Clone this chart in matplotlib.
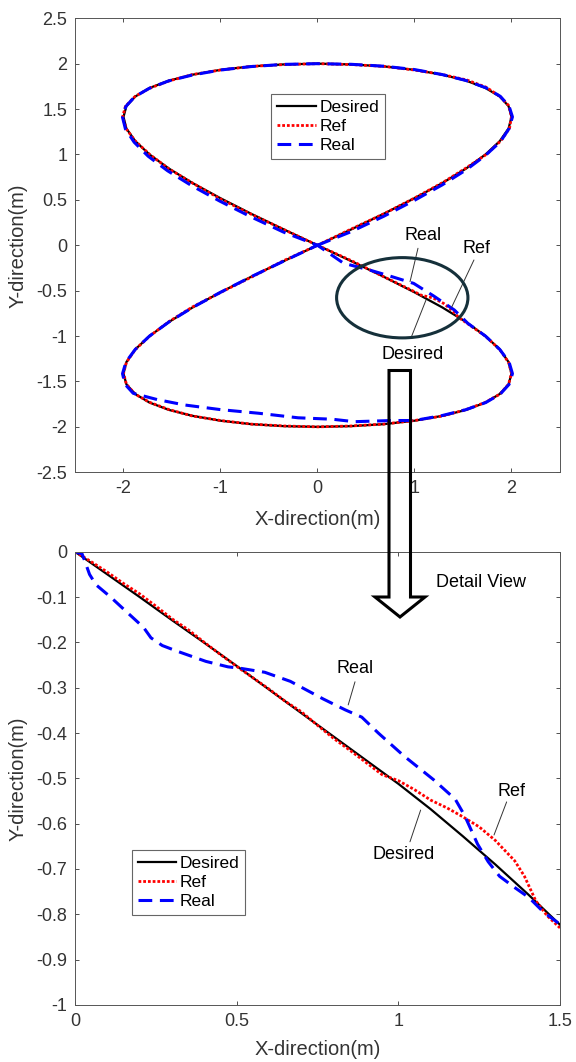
import matplotlib
matplotlib.use('Agg')
import matplotlib.pyplot as plt
from matplotlib.patches import Ellipse, Polygon

plt.rcParams['font.family'] = ['Liberation Sans', 'DejaVu Sans']
plt.rcParams['axes.unicode_minus'] = False

# ---- top plot: full figure-eight trajectory ----
desired_x = [0, 0.347, 0.684, 1.0, 1.286, 1.532, 1.732, 1.879, 1.97, 2.0, 1.97, 1.879, 1.732, 1.532, 1.286, 1.0, 0.684, 0.347, 0,
             -0.347, -0.684, -1.0, -1.286, -1.532, -1.732, -1.879, -1.97, -2.0, -1.97, -1.879, -1.732, -1.532, -1.286, -1.0, -0.684, -0.347, 0,
             0.347, 0.684, 1.0, 1.286, 1.532, 1.732, 1.879, 1.97, 2.0, 1.97, 1.879, 1.732, 1.532, 1.286, 1.0, 0.684, 0.347, 0,
             -0.347, -0.684, -1.0, -1.286, -1.532, -1.732, -1.879, -1.97, -2.0, -1.97, -1.879, -1.732, -1.532, -1.286, -1.0, -0.684, -0.347, 0]
desired_y = [0, 0.174, 0.347, 0.518, 0.684, 0.845, 1.0, 1.147, 1.286, 1.414, 1.532, 1.638, 1.732, 1.813, 1.879, 1.932, 1.97, 1.992, 2.0,
             1.992, 1.97, 1.932, 1.879, 1.813, 1.732, 1.638, 1.532, 1.414, 1.286, 1.147, 1.0, 0.845, 0.684, 0.518, 0.347, 0.174, 0,
             -0.174, -0.347, -0.518, -0.684, -0.845, -1.0, -1.147, -1.286, -1.414, -1.532, -1.638, -1.732, -1.813, -1.879, -1.932, -1.97, -1.992, -2.0,
             -1.992, -1.97, -1.932, -1.879, -1.813, -1.732, -1.638, -1.532, -1.414, -1.286, -1.147, -1.0, -0.845, -0.684, -0.518, -0.347, -0.174, 0]

ref_x = [0, 0.35, 0.69, 1.0, 1.29, 1.53, 1.74, 1.89, 1.98, 2.0, 1.97, 1.88, 1.74, 1.54, 1.29, 1.0, 0.69, 0.35, 0,
         -0.35, -0.68, -1.0, -1.29, -1.53, -1.73, -1.88, -1.98, -2.01, -1.97, -1.88, -1.73, -1.53, -1.28, -1.0, -0.68, -0.34, 0,
         0.35, 0.69, 0.96, 1.07, 1.19, 1.3, 1.39, 1.46, 1.53, 1.73, 1.88, 1.97, 2.0, 1.97, 1.88, 1.73, 1.53, 1.29, 1.0, 0.68, 0.35, 0,
         -0.35, -0.68, -1.0, -1.29, -1.53, -1.73, -1.88, -1.97, -2.0, -1.97, -1.88, -1.73, -1.53, -1.29, -1.0, -0.68, -0.35, 0]
ref_y = [0, 0.18, 0.35, 0.52, 0.69, 0.85, 1.0, 1.15, 1.29, 1.42, 1.54, 1.64, 1.74, 1.82, 1.88, 1.93, 1.97, 1.99, 2.0,
         1.99, 1.97, 1.93, 1.88, 1.81, 1.73, 1.64, 1.53, 1.41, 1.28, 1.15, 1.0, 0.84, 0.68, 0.51, 0.34, 0.17, 0,
         -0.17, -0.35, -0.49, -0.55, -0.58, -0.64, -0.72, -0.8, -0.85, -1.0, -1.15, -1.29, -1.41, -1.53, -1.64, -1.73, -1.81, -1.88, -1.93, -1.97, -1.99, -2.0,
         -1.99, -1.97, -1.93, -1.88, -1.81, -1.73, -1.64, -1.53, -1.41, -1.29, -1.15, -1.0, -0.84, -0.68, -0.52, -0.35, -0.17, 0]

real_x = [0, 0.347, 0.684, 1.0, 1.286, 1.532, 1.732, 1.885, 1.975, 2.01, 1.975, 1.885, 1.735, 1.53, 1.285, 1.0, 0.684, 0.347, 0,
          -0.347, -0.684, -1.0, -1.286, -1.535, -1.735, -1.885, -1.975, -2.01, -1.98, -1.89, -1.745, -1.545, -1.295, -1.005, -0.69, -0.35, 0,
          0.269, 0.535, 0.75, 0.992, 1.2, 1.411, 1.55, 1.732, 1.879, 1.975, 2.01, 1.975, 1.885, 1.735, 1.532, 1.286, 1.0, 0.764, 0.38, 0.155,
          -0.2, -0.607, -1.0, -1.369, -1.65, -1.9, -1.985, -2.01, -1.975, -1.879, -1.732, -1.532, -1.286, -1.0, -0.684, -0.347, 0]
real_y = [0, 0.15, 0.32, 0.495, 0.665, 0.83, 0.99, 1.14, 1.285, 1.414, 1.532, 1.64, 1.735, 1.815, 1.88, 1.935, 1.972, 1.993, 2.0,
          1.992, 1.968, 1.93, 1.876, 1.81, 1.728, 1.635, 1.53, 1.41, 1.28, 1.135, 0.98, 0.82, 0.655, 0.485, 0.315, 0.145, 0,
          -0.198, -0.272, -0.34, -0.42, -0.56, -0.713, -0.86, -1.0, -1.147, -1.286, -1.414, -1.532, -1.638, -1.732, -1.81, -1.875, -1.93, -1.93, -1.943, -1.916,
          -1.9, -1.85, -1.81, -1.759, -1.7, -1.63, -1.53, -1.414, -1.286, -1.147, -1.0, -0.845, -0.684, -0.518, -0.347, -0.174, 0]

# ---- bottom plot: detail view ----
det_desired_x = [0, 0.1, 0.2, 0.3, 0.4, 0.5, 0.6, 0.7, 0.8, 0.9, 1.0, 1.1, 1.2, 1.3, 1.4, 1.5]
det_desired_y = [0, -0.05, -0.1, -0.151, -0.201, -0.252, -0.304, -0.356, -0.408, -0.46, -0.512, -0.568, -0.628, -0.69, -0.755, -0.823]

det_ref_x = [0, 0.05, 0.1, 0.15, 0.2, 0.25, 0.3, 0.35, 0.4, 0.45, 0.5, 0.55, 0.6, 0.65, 0.7, 0.75, 0.8, 0.85, 0.9, 0.95,
             1.0, 1.05, 1.1, 1.15, 1.2, 1.25, 1.3, 1.36, 1.39, 1.425, 1.46, 1.5]
det_ref_y = [0, -0.022, -0.045, -0.07, -0.093, -0.12, -0.148, -0.172, -0.2, -0.227, -0.253, -0.278, -0.303, -0.33, -0.353, -0.383, -0.412, -0.438, -0.465, -0.492,
             -0.505, -0.525, -0.548, -0.565, -0.585, -0.607, -0.637, -0.682, -0.716, -0.77, -0.803, -0.83]

det_real_x = [0.0, 0.022, 0.03, 0.045, 0.065, 0.11, 0.16, 0.212, 0.235, 0.27, 0.314, 0.405, 0.473, 0.51, 0.587, 0.666, 0.768, 0.836,
              0.887, 0.938, 1.018, 1.109, 1.176, 1.205, 1.245, 1.278, 1.313, 1.358, 1.404, 1.449, 1.5]
det_real_y = [0.0, -0.005, -0.02, -0.05, -0.073, -0.1, -0.133, -0.167, -0.19, -0.207, -0.219, -0.242, -0.254, -0.257, -0.266, -0.286, -0.325, -0.349,
              -0.365, -0.4, -0.451, -0.503, -0.546, -0.582, -0.645, -0.684, -0.716, -0.74, -0.763, -0.795, -0.822]

top_xticks = [-2, -1, 0, 1, 2]
top_yticks = [-2.5, -2, -1.5, -1, -0.5, 0, 0.5, 1, 1.5, 2, 2.5]
bot_xticks = [0, 0.5, 1, 1.5]
bot_yticks = [-1, -0.9, -0.8, -0.7, -0.6, -0.5, -0.4, -0.3, -0.2, -0.1, 0]

fig = plt.figure(figsize=(5.76, 10.62), dpi=100)
ax1 = fig.add_axes([0.1302, 0.5553, 0.8420, 0.4275])
ax2 = fig.add_axes([0.1302, 0.0537, 0.8420, 0.4268])


def style_axes(ax, xt, yt):
    ax.set_xticks(xt)
    ax.set_xticklabels(['%g' % v for v in xt])
    ax.set_yticks(yt)
    ax.set_yticklabels(['%g' % v for v in yt])
    ax.tick_params(direction='in', top=True, right=True, length=3, width=0.6,
                   colors='#333333', labelsize=13, pad=5.5)
    for s in ax.spines.values():
        s.set_color('#555555')
        s.set_linewidth(0.7)
    ax.set_xlabel('X-direction(m)', fontsize=14.5, color='#333333', va='center')
    ax.set_ylabel('Y-direction(m)', fontsize=14.5, color='#333333', va='center')
    ax.yaxis.set_label_coords(-0.1165, 0.5)


def plot_three(ax, dx, dy, rx, ry, qx, qy):
    ax.plot(dx, dy, color='k', lw=1.6, label='Desired')
    ax.plot(rx, ry, color='r', lw=2, ls=(0, (1, 0.7)), label='Ref')
    ax.plot(qx, qy, color='b', lw=2.2, ls=(0, (4.5, 2.5)), label='Real')


def note(ax, text, txy, p0, p1):
    ax.text(txy[0], txy[1], text, fontsize=13, ha='center', va='center', zorder=6)
    ax.annotate('', xy=p1, xytext=p0,
                arrowprops=dict(arrowstyle='-', color='#333333', lw=0.7, shrinkA=0, shrinkB=0))


def legend(ax, anchor):
    leg = ax.legend(loc='upper left', bbox_to_anchor=anchor, fontsize=12.5, frameon=True,
                    fancybox=False, edgecolor='#666666', framealpha=1, borderaxespad=0,
                    handlelength=2.2, handletextpad=0.2, labelspacing=0.22, borderpad=0.35)
    leg.get_frame().set_linewidth(0.8)


plot_three(ax1, desired_x, desired_y, ref_x, ref_y, real_x, real_y)
ax1.set_xlim(-2.5, 2.5)
ax1.set_ylim(-2.5, 2.5)
style_axes(ax1, top_xticks, top_yticks)
ax1.xaxis.set_label_coords(0.5, -0.105)
legend(ax1, (0.405, 0.833))

ax1.add_patch(Ellipse((0.874, -0.578), 1.354, 0.884, fill=False, ec='#15303a', lw=2.2, zorder=5))
note(ax1, 'Real', (1.088, 0.113), (1.036, -0.033), (0.954, -0.401))
note(ax1, 'Ref', (1.641, -0.041), (1.613, -0.162), (1.384, -0.68))
note(ax1, 'Desired', (0.981, -1.208), (1.119, -0.602), (0.964, -1.02))

plot_three(ax2, det_desired_x, det_desired_y, det_ref_x, det_ref_y, det_real_x, det_real_y)
ax2.set_xlim(0, 1.5)
ax2.set_ylim(-1, 0)
style_axes(ax2, bot_xticks, bot_yticks)
ax2.xaxis.set_label_coords(0.5, -0.0986)
legend(ax2, (0.117, 0.342))

note(ax2, 'Real', (0.866, -0.257), (0.866, -0.287), (0.845, -0.338))
note(ax2, 'Ref', (1.351, -0.529), (1.335, -0.552), (1.296, -0.625))
note(ax2, 'Desired', (1.016, -0.669), (1.036, -0.64), (1.069, -0.57))
ax2.text(1.256, -0.069, 'Detail View', fontsize=13, ha='center', va='center')

# hollow arrow linking the two plots (figure pixels, y from top)
arrow_px = [(389, 370.5), (410.5, 370.5), (410.5, 597), (425, 597), (400, 617), (375, 597), (389, 597)]
W, H = 576, 1062
arrow = Polygon([(x / W, 1 - y / H) for x, y in arrow_px], closed=True, fill=False,
                ec='k', lw=2.2, joinstyle='miter', transform=fig.transFigure, zorder=10)
fig.add_artist(arrow)

fig.savefig('out.png', dpi=100)
